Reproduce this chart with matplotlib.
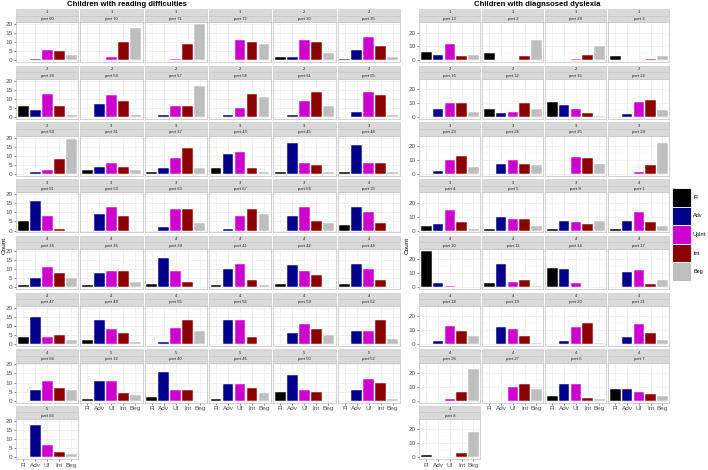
import matplotlib
matplotlib.use("Agg")
import matplotlib.pyplot as plt
from matplotlib.patches import Rectangle

plt.rcParams['font.family'] = ['Liberation Sans', 'DejaVu Sans']

# ------------------------------
# data
# ------------------------------
levels = ["Fl", "Adv", "UpInt", "Int", "Beg"]
x_ticklabels = ["Fl", "Adv", "UI", "Int", "Beg"]

left_groups = [1, 1, 1, 1, 2, 2,
               2, 2, 2, 2, 2, 2,
               2, 3, 3, 3, 3, 3,
               3, 3, 3, 3, 3, 4,
               4, 4, 4, 4, 4, 4,
               4, 4, 4, 4, 4, 4,
               4, 5, 5, 5, 5, 5,
               5]
left_parts = [60, 70, 71, 72, 30, 35,
              38, 54, 57, 58, 61, 65,
              69, 31, 37, 43, 45, 48,
              51, 53, 63, 67, 68, 33,
              34, 36, 39, 41, 42, 44,
              47, 49, 55, 56, 59, 62,
              64, 32, 40, 46, 50, 52,
              66]
# counts per panel: Fl, Adv, UpInt, Int, Beg
left_counts = [
    [0, 1, 6, 5, 3], [0, 0, 2, 10, 18], [0, 0, 1, 9, 20], [0, 0, 11, 10, 9], [2, 2, 11, 10, 4], [1, 6, 13, 8, 2],
    [6, 4, 13, 6, 1], [0, 7, 12, 9, 1], [0, 1, 6, 6, 17], [0, 1, 5, 13, 11], [0, 1, 9, 14, 6], [0, 3, 14, 12, 1],
    [0, 1, 2, 8, 19], [2, 4, 6, 4, 2], [1, 3, 9, 14, 3], [3, 11, 12, 3, 1], [1, 17, 6, 5, 1], [1, 16, 6, 6, 1],
    [5, 16, 8, 1, 0], [0, 9, 13, 8, 0], [0, 2, 12, 12, 4], [0, 1, 8, 12, 9], [0, 8, 13, 5, 4], [3, 13, 10, 4, 0],
    [1, 5, 11, 8, 5], [1, 8, 9, 9, 3], [2, 16, 9, 3, 0], [1, 10, 13, 4, 1], [2, 12, 9, 7, 0], [2, 13, 10, 4, 0],
    [4, 15, 4, 5, 2], [2, 13, 8, 6, 1], [0, 1, 9, 13, 7], [0, 13, 13, 4, 0], [0, 6, 11, 8, 5], [0, 7, 7, 13, 3],
    [0, 6, 11, 7, 6], [1, 11, 11, 4, 3], [2, 16, 6, 6, 0], [1, 9, 9, 7, 4], [5, 14, 6, 5, 0], [0, 6, 12, 10, 1],
    [0, 18, 7, 3, 2],
]

right_groups = [1, 1, 1, 1,
                2, 2, 2, 2,
                3, 3, 3, 3,
                3, 3, 3, 4,
                4, 4, 4, 4,
                4, 4, 4, 4,
                4, 4, 4, 4,
                4]
right_parts = [13, 2, 28, 3,
               16, 12, 15, 22,
               23, 24, 25, 29,
               4, 5, 9, 1,
               10, 11, 14, 17,
               18, 19, 20, 21,
               26, 27, 6, 7,
               8]
right_counts = [
    [6, 4, 12, 3, 4], [5, 0, 0, 3, 15], [0, 0, 1, 4, 10], [3, 0, 0, 1, 3],
    [0, 6, 10, 10, 4], [6, 3, 4, 10, 6], [11, 9, 6, 3, 1], [0, 2, 11, 12, 5],
    [0, 2, 10, 13, 5], [0, 7, 10, 7, 6], [0, 0, 12, 11, 7], [0, 0, 1, 6, 22],
    [3, 5, 15, 6, 1], [1, 10, 8, 8, 3], [1, 7, 6, 5, 7], [1, 7, 13, 6, 3],
    [26, 3, 1, 0, 0], [3, 17, 4, 5, 1], [14, 13, 3, 0, 0], [0, 11, 12, 2, 5],
    [0, 2, 13, 9, 6], [0, 12, 11, 6, 1], [0, 2, 12, 15, 1], [0, 5, 14, 8, 3],
    [0, 0, 1, 6, 23], [0, 0, 10, 12, 8], [3, 12, 12, 2, 1], [8, 8, 6, 5, 3],
    [2, 0, 0, 3, 18],
]

# styles
bar_colors = ["#000000", "#00008B", "#CD00CD", "#8B0000", "#BEBEBE"]
W, H = 708, 470

fig = plt.figure(figsize=(W / 100, H / 100), dpi=100)


def fig_rect(x, y, w, h, **kw):
    fig.add_artist(Rectangle((x / W, 1 - (y + h) / H), w / W, h / H,
                             transform=fig.transFigure, **kw))


def fig_text(x, y, s, **kw):
    fig.text(x / W, 1 - y / H, s, **kw)


def facet_grid(groups, parts, counts, x0, col_pitch, col_w, ncol, ylim, yticks):
    n = len(counts)
    last_row = {}
    for i in range(n):
        last_row[i % ncol] = i // ncol
    for i in range(n):
        r, c = i // ncol, i % ncol
        top = 9 + 56.7 * r
        x = x0 + col_pitch * c
        # strips
        fig_rect(x, top, col_w, 6.5, facecolor="#D9D9D9", edgecolor="#C4C4C4", lw=0.4)
        fig_rect(x, top + 6.5, col_w, 6.8, facecolor="#D9D9D9", edgecolor="#C4C4C4", lw=0.4)
        fig_text(x + col_w / 2, top + 3.4, str(groups[i]), ha="center", va="center",
                 fontsize=3, color="#1A1A1A")
        fig_text(x + col_w / 2, top + 10.0, "part %d" % parts[i], ha="center", va="center",
                 fontsize=3, color="#1A1A1A")
        # panel
        ph = 40
        py = top + 13.3
        ax = fig.add_axes([x / W, 1 - (py + ph) / H, col_w / W, ph / H])
        ax.bar(range(5), counts[i], width=0.9, color=bar_colors,
               edgecolor="white", linewidth=0.35, zorder=3)
        ax.set_xlim(-0.6, 4.6)
        ax.set_ylim(*ylim)
        ax.set_yticks(yticks)
        step = yticks[1] - yticks[0]
        ax.set_yticks([t + step / 2 for t in yticks[:-1]], minor=True)
        ax.set_xticks(range(5))
        ax.grid(which="major", color="#EBEBEB", lw=0.5, zorder=0)
        ax.grid(which="minor", axis="y", color="#F3F3F3", lw=0.3, zorder=0)
        ax.tick_params(which="minor", length=0)
        ax.tick_params(which="major", length=1.5, width=0.4, color="#333333",
                       labelsize=4.6, labelcolor="#4D4D4D", pad=1)
        for sp in ax.spines.values():
            sp.set_color("#BDBDBD")
            sp.set_linewidth(0.5)
        if c != 0:
            ax.tick_params(axis="y", left=False, labelleft=False)
        if r == last_row[c]:
            ax.set_xticklabels(x_ticklabels)
        else:
            ax.tick_params(axis="x", bottom=False, labelbottom=False)


facet_grid(left_groups, left_parts, left_counts, 16, 64.3, 62.3, 6,
           (-1, 21), [0, 5, 10, 15, 20])
facet_grid(right_groups, right_parts, right_counts, 419.3, 63.0, 61.0, 4,
           (-1.3, 27.3), [0, 10, 20])

# titles and axis labels
fig_text(127, 5, "Children with reading difficulties", ha="center", va="center",
         fontsize=5.6, fontweight="bold")
fig_text(537, 5, "Children with diagnsosed dyslexia", ha="center", va="center",
         fontsize=5.6, fontweight="bold")
fig_text(4, 245, "Count", rotation=90, ha="center", va="center", fontsize=4.6)
fig_text(407, 245, "Count", rotation=90, ha="center", va="center", fontsize=4.6)

# legend
for k, lab in enumerate(levels):
    ky = 188 + 18.6 * k
    fig_rect(672, ky, 19, 18.6, facecolor=bar_colors[k], edgecolor="white", lw=0.6)
    fig_text(693, ky + 9.3, lab, ha="left", va="center", fontsize=4.0)

fig.savefig("out.png", dpi=100)
